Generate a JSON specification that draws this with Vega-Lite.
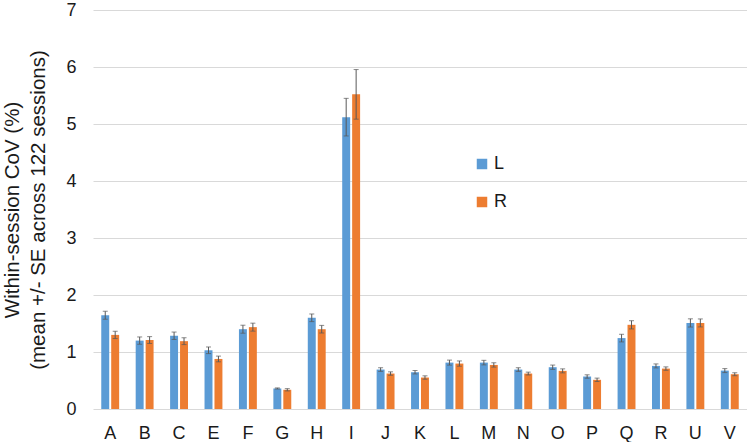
{
  "$schema": "https://vega.github.io/schema/vega-lite/v6.json",
  "width": 654,
  "height": 399,
  "autosize": {"type": "none"},
  "padding": {"left": 93, "top": 10, "right": 0, "bottom": 33},
  "background": "white",
  "config": {
    "font": "Liberation Sans",
    "view": {"stroke": null},
    "axisY": {
      "titleFontSize": 20.5, "titleFontWeight": "normal", "titleColor": "#1a1a1a",
      "titleLineHeight": 26, "titlePadding": 17, "labelOverlap": false,
      "domain": false, "ticks": false, "gridColor": "#d9d9d9", "gridWidth": 1,
      "labelFontSize": 18, "labelColor": "#1a1a1a", "labelPadding": 17
    }
  },
  "data": {
    "values": [
      {"cat": "A", "side": "L", "mean": 1.645, "lo": 1.575, "hi": 1.715},
      {"cat": "A", "side": "R", "mean": 1.30, "lo": 1.236, "hi": 1.364},
      {"cat": "B", "side": "L", "mean": 1.20, "lo": 1.136, "hi": 1.264},
      {"cat": "B", "side": "R", "mean": 1.21, "lo": 1.15, "hi": 1.27},
      {"cat": "C", "side": "L", "mean": 1.285, "lo": 1.22, "hi": 1.35},
      {"cat": "C", "side": "R", "mean": 1.19, "lo": 1.13, "hi": 1.25},
      {"cat": "E", "side": "L", "mean": 1.03, "lo": 0.972, "hi": 1.088},
      {"cat": "E", "side": "R", "mean": 0.878, "lo": 0.828, "hi": 0.928},
      {"cat": "F", "side": "L", "mean": 1.40, "lo": 1.33, "hi": 1.47},
      {"cat": "F", "side": "R", "mean": 1.436, "lo": 1.366, "hi": 1.506},
      {"cat": "G", "side": "L", "mean": 0.36, "lo": 0.35, "hi": 0.37},
      {"cat": "G", "side": "R", "mean": 0.337, "lo": 0.317, "hi": 0.357},
      {"cat": "H", "side": "L", "mean": 1.60, "lo": 1.533, "hi": 1.667},
      {"cat": "H", "side": "R", "mean": 1.40, "lo": 1.333, "hi": 1.467},
      {"cat": "I", "side": "L", "mean": 5.12, "lo": 4.79, "hi": 5.45},
      {"cat": "I", "side": "R", "mean": 5.52, "lo": 5.085, "hi": 5.955},
      {"cat": "J", "side": "L", "mean": 0.692, "lo": 0.66, "hi": 0.724},
      {"cat": "J", "side": "R", "mean": 0.622, "lo": 0.592, "hi": 0.652},
      {"cat": "K", "side": "L", "mean": 0.645, "lo": 0.615, "hi": 0.675},
      {"cat": "K", "side": "R", "mean": 0.552, "lo": 0.522, "hi": 0.582},
      {"cat": "L", "side": "L", "mean": 0.814, "lo": 0.77, "hi": 0.858},
      {"cat": "L", "side": "R", "mean": 0.797, "lo": 0.751, "hi": 0.843},
      {"cat": "M", "side": "L", "mean": 0.814, "lo": 0.774, "hi": 0.854},
      {"cat": "M", "side": "R", "mean": 0.773, "lo": 0.735, "hi": 0.811},
      {"cat": "N", "side": "L", "mean": 0.692, "lo": 0.66, "hi": 0.724},
      {"cat": "N", "side": "R", "mean": 0.622, "lo": 0.597, "hi": 0.647},
      {"cat": "O", "side": "L", "mean": 0.733, "lo": 0.695, "hi": 0.771},
      {"cat": "O", "side": "R", "mean": 0.669, "lo": 0.634, "hi": 0.704},
      {"cat": "P", "side": "L", "mean": 0.57, "lo": 0.54, "hi": 0.60},
      {"cat": "P", "side": "R", "mean": 0.512, "lo": 0.482, "hi": 0.542},
      {"cat": "Q", "side": "L", "mean": 1.244, "lo": 1.177, "hi": 1.311},
      {"cat": "Q", "side": "R", "mean": 1.477, "lo": 1.405, "hi": 1.549},
      {"cat": "R", "side": "L", "mean": 0.756, "lo": 0.721, "hi": 0.791},
      {"cat": "R", "side": "R", "mean": 0.709, "lo": 0.679, "hi": 0.739},
      {"cat": "U", "side": "L", "mean": 1.51, "lo": 1.438, "hi": 1.582},
      {"cat": "U", "side": "R", "mean": 1.51, "lo": 1.44, "hi": 1.58},
      {"cat": "V", "side": "L", "mean": 0.674, "lo": 0.639, "hi": 0.709},
      {"cat": "V", "side": "R", "mean": 0.61, "lo": 0.584, "hi": 0.636}
    ]
  },
  "encoding": {
    "x": {
      "field": "cat", "type": "nominal", "sort": null,
      "scale": {"paddingInner": 0.48, "paddingOuter": 0.24},
      "axis": {"title": null, "labelAngle": 0, "domain": false, "ticks": false, "grid": false,
               "labelFontSize": 18, "labelColor": "#1a1a1a", "labelPadding": 15}
    },
    "xOffset": {"field": "side", "type": "nominal", "scale": {"paddingInner": 0.2, "paddingOuter": 0}}
  },
  "layer": [
    {
      "mark": {"type": "bar"},
      "encoding": {
        "y": {
          "field": "mean", "type": "quantitative",
          "scale": {"domain": [0, 7], "nice": false},
          "axis": {"title": ["Within-session CoV (%)", "(mean +/- SE across 122 sessions)"], "values": [0, 1, 2, 3, 4, 5, 6, 7]}
        },
        "color": {
          "field": "side", "type": "nominal",
          "scale": {"domain": ["L", "R"], "range": ["#5B9BD5", "#ED7D31"]},
          "legend": {
            "title": null, "orient": "none", "legendX": 380, "legendY": 145,
            "symbolType": "square", "symbolSize": 110, "symbolStrokeWidth": 0,
            "labelFontSize": 18, "labelColor": "#1a1a1a", "rowPadding": 20, "labelOffset": 3
          }
        }
      }
    },
    {
      "mark": {"type": "rule", "color": "#595959", "strokeWidth": 1},
      "encoding": {
        "y": {"field": "lo", "type": "quantitative", "axis": {"title": ["Within-session CoV (%)", "(mean +/- SE across 122 sessions)"], "values": [0, 1, 2, 3, 4, 5, 6, 7]}},
        "y2": {"field": "hi"}
      }
    },
    {
      "mark": {"type": "tick", "color": "#595959", "thickness": 1, "size": 5},
      "encoding": {"y": {"field": "lo", "type": "quantitative", "axis": {"title": ["Within-session CoV (%)", "(mean +/- SE across 122 sessions)"], "values": [0, 1, 2, 3, 4, 5, 6, 7]}}}
    },
    {
      "mark": {"type": "tick", "color": "#595959", "thickness": 1, "size": 5},
      "encoding": {"y": {"field": "hi", "type": "quantitative", "axis": {"title": ["Within-session CoV (%)", "(mean +/- SE across 122 sessions)"], "values": [0, 1, 2, 3, 4, 5, 6, 7]}}}
    }
  ]
}
